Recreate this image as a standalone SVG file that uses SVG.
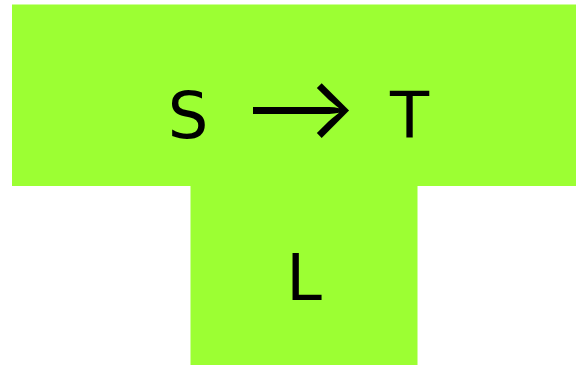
<svg xmlns="http://www.w3.org/2000/svg" width="576" height="365" viewBox="0 0 576 365">
<style>
.blk{fill:#9cff33;stroke:none}
.lbl{font-family:"DejaVu Sans",sans-serif;font-size:64px;fill:#000;text-anchor:middle}
.arr{font-family:Inter,sans-serif;font-size:86px}
</style>
<rect width="576" height="365" fill="#fff"/>
<g id="top">
<rect class="blk" x="12" y="4.5" width="564" height="181.5"/>
<text class="lbl" x="409.5" y="137.7"><tspan x="188" y="137.7">S</tspan><tspan class="arr" x="300" y="138">⟶</tspan><tspan x="409.5" y="137.7">T</tspan></text>
</g>
<g id="bottom">
<rect class="blk" x="190.5" y="185" width="227" height="180"/>
<text class="lbl" x="304" y="300">L</text>
</g>
</svg>
